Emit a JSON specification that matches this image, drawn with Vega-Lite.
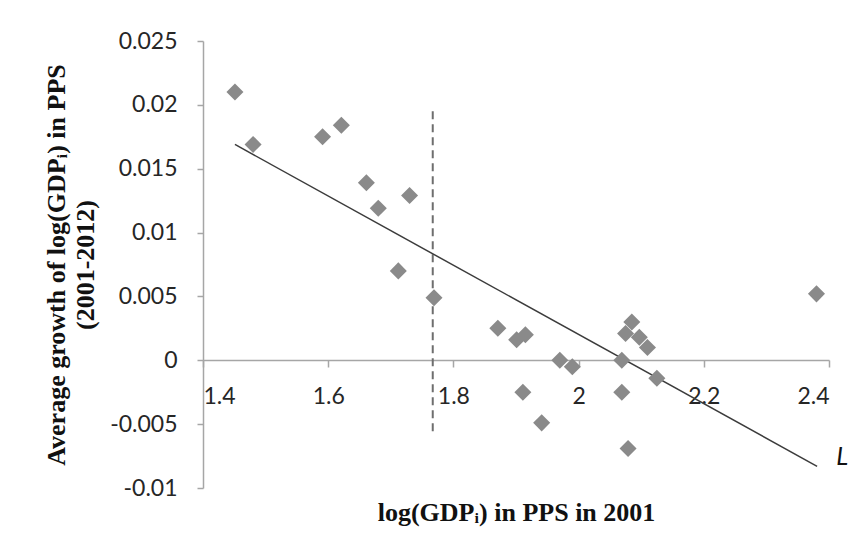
{
  "$schema": "https://vega.github.io/schema/vega-lite/v6.json",
  "autosize": {"type": "none"},
  "width": 626,
  "height": 447,
  "padding": {"left": 203, "top": 41, "right": 34, "bottom": 62},
  "background": "white",
  "config": {
    "view": {"stroke": null},
    "axis": {"grid": false}
  },
  "datasets": {
    "points": [
      {"x": 1.451, "y": 0.0210},
      {"x": 1.480, "y": 0.0169},
      {"x": 1.591, "y": 0.0175},
      {"x": 1.621, "y": 0.0184},
      {"x": 1.661, "y": 0.0139},
      {"x": 1.680, "y": 0.0119},
      {"x": 1.730, "y": 0.0129},
      {"x": 1.712, "y": 0.0070},
      {"x": 1.769, "y": 0.0049},
      {"x": 1.871, "y": 0.0025},
      {"x": 1.901, "y": 0.0016},
      {"x": 1.915, "y": 0.0020},
      {"x": 1.911, "y": -0.0025},
      {"x": 1.941, "y": -0.0049},
      {"x": 1.970, "y": 0.0000},
      {"x": 1.990, "y": -0.0005},
      {"x": 2.069, "y": 0.0000},
      {"x": 2.069, "y": -0.0025},
      {"x": 2.075, "y": 0.0021},
      {"x": 2.085, "y": 0.0030},
      {"x": 2.097, "y": 0.0018},
      {"x": 2.110, "y": 0.0010},
      {"x": 2.079, "y": -0.0069},
      {"x": 2.125, "y": -0.0014},
      {"x": 2.380, "y": 0.0052}
    ],
    "trend": [
      {"x": 1.451, "y": 0.0169},
      {"x": 2.381, "y": -0.0083}
    ],
    "threshold": [
      {"x": 1.767, "ytop": 0.0195, "ybottom": -0.0057}
    ],
    "labels": [
      {"x": 2.421, "y": -0.0076, "text": "L"}
    ]
  },
  "layer": [
    {
      "data": {"name": "threshold"},
      "mark": {"type": "rule", "color": "#6e6e6e", "strokeWidth": 2, "strokeDash": [8, 5]},
      "encoding": {
        "x": {
          "field": "x", "type": "quantitative",
          "scale": {"domain": [1.4, 2.4], "nice": false, "zero": false},
          "axis": {
            "orient": "bottom",
            "offset": -128,
            "values": [1.4, 1.6, 1.8, 2.0, 2.2, 2.4],
            "labelExpr": "format(datum.value, '~g')",
            "domainColor": "#a6a6a6",
            "domainWidth": 1.5,
            "tickColor": "#a6a6a6",
            "tickWidth": 1.5,
            "tickSize": 7,
            "labelPadding": 18,
            "labelFont": "Lato",
            "labelFontSize": 23,
            "labelColor": "#262626",
            "title": "log(GDPᵢ) in PPS in 2001",
            "titleFont": "Liberation Serif",
            "titleFontSize": 26,
            "titleFontWeight": "bold",
            "titleColor": "#111111",
            "titleY": 152,
            "titleBaseline": "middle"
          }
        },
        "y": {
          "field": "ytop", "type": "quantitative",
          "scale": {"domain": [-0.01, 0.025], "nice": false, "zero": false},
          "axis": {
            "values": [-0.01, -0.005, 0, 0.005, 0.01, 0.015, 0.02, 0.025],
            "labelExpr": "replace(format(datum.value, '~g'), '\u2212', '-')",
            "domainColor": "#a6a6a6",
            "domainWidth": 1.5,
            "tickColor": "#a6a6a6",
            "tickWidth": 1.5,
            "tickSize": 6,
            "labelPadding": 20,
            "labelFont": "Lato",
            "labelFontSize": 23,
            "labelColor": "#262626",
            "title": ["Average growth of log(GDPᵢ) in PPS", "(2001-2012)"],
            "titleFont": "Liberation Serif",
            "titleFontSize": 26,
            "titleFontWeight": "bold",
            "titleColor": "#111111",
            "titleLineHeight": 29,
            "titleX": -147,
            "titleBaseline": "middle"
          }
        },
        "y2": {"field": "ybottom"}
      }
    },
    {
      "data": {"name": "trend"},
      "mark": {"type": "line", "color": "#3c3c3c", "strokeWidth": 1.5},
      "encoding": {
        "x": {"field": "x", "type": "quantitative"},
        "y": {"field": "y", "type": "quantitative"}
      }
    },
    {
      "data": {"name": "points"},
      "mark": {"type": "point", "shape": "diamond", "filled": true, "size": 290, "color": "#8a8a8a", "opacity": 1},
      "encoding": {
        "x": {"field": "x", "type": "quantitative"},
        "y": {"field": "y", "type": "quantitative"}
      }
    },
    {
      "data": {"name": "labels"},
      "mark": {"type": "text", "font": "Lato", "fontStyle": "italic", "fontSize": 25, "color": "#111111", "align": "center", "baseline": "middle"},
      "encoding": {
        "x": {"field": "x", "type": "quantitative"},
        "y": {"field": "y", "type": "quantitative"},
        "text": {"field": "text"}
      }
    }
  ]
}
